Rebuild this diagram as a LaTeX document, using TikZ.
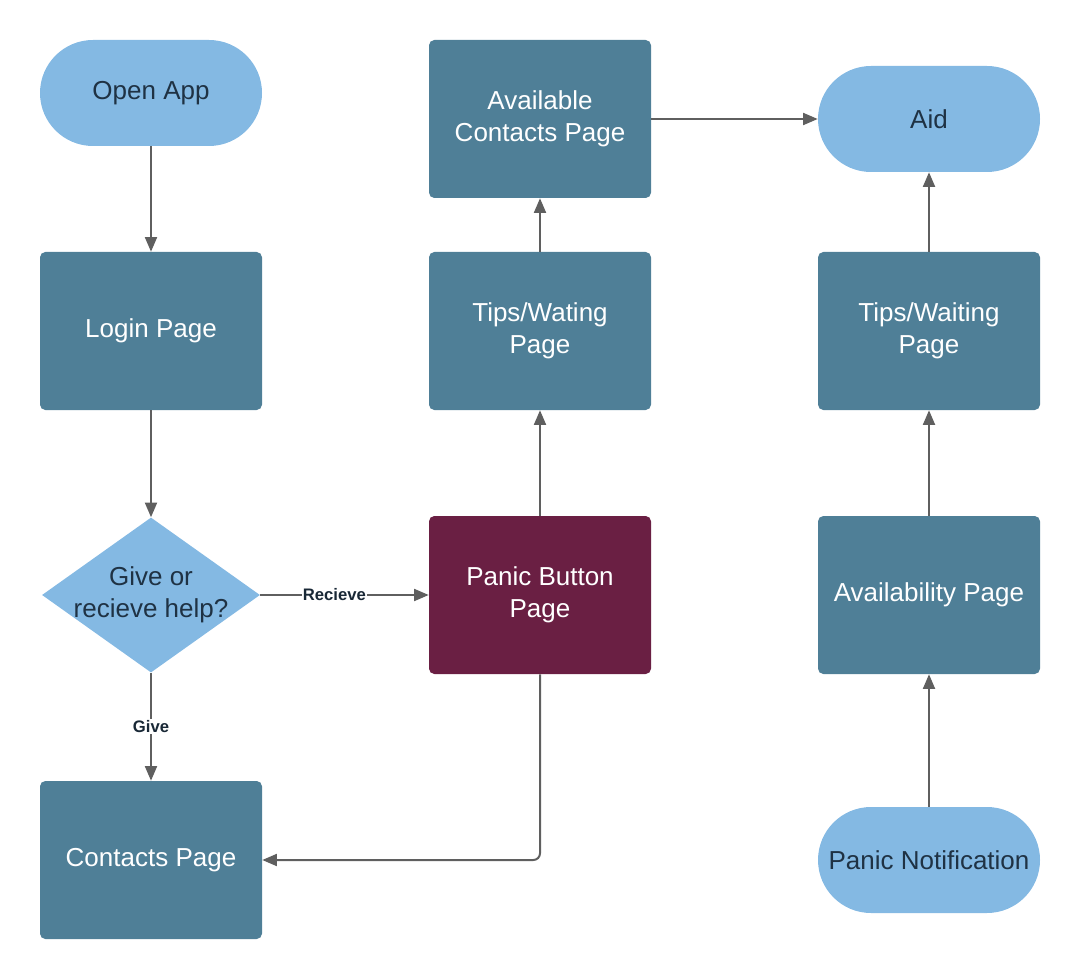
\documentclass[tikz,border=0pt]{standalone}
\usepackage{fontspec}
\setmainfont{Liberation Sans}
\usetikzlibrary{positioning}
\usetikzlibrary{shapes.geometric}
\usetikzlibrary{arrows.meta}
\definecolor{lightblue}{HTML}{84B9E3}
\definecolor{pageteal}{HTML}{4F7F97}
\definecolor{panicred}{HTML}{6A1F43}
\definecolor{darktext}{HTML}{1F3244}
\definecolor{arrowgray}{HTML}{5F5F5F}
\tikzstyle{page} = [rectangle, fill=pageteal, text=white, rounded corners=4pt, minimum width=166.5pt, minimum height=118.5pt, align=center, font=\fontsize{19.5}{24}\selectfont]
\tikzstyle{terminal} = [rectangle, fill=lightblue, text=darktext, rounded corners=39.75pt, minimum width=166.5pt, minimum height=79.5pt, align=center, font=\fontsize{19.5}{24}\selectfont]
\tikzstyle{decision} = [diamond, fill=lightblue, inner sep=0pt, minimum width=163.5pt, minimum height=116.25pt]

\begin{document}
\begin{tikzpicture}[x=0.75pt, y=-0.75pt, on grid,
  flow/.style={draw=arrowgray, line width=1.5pt, -{Triangle[length=11pt, width=9pt]}},
  choice/.style={fill=white, inner sep=1pt, text=darktext!80!black, font=\fontsize{12.5}{14}\selectfont\bfseries}]
\useasboundingbox (0,0) rectangle (1080,980);

% Define nodes
\node[terminal]                         (open)  at (151,93) {Open App};
\node[page, below = 178.5pt of open]     (login) {Login Page};
\node[decision, below = 198pt of login,
      label={[text=darktext, align=center, font=\fontsize{19.5}{24}\selectfont]center:Give or\\recieve help?}] (help) {};
\node[page, below = 198.75pt of help]    (cont)  {Contacts Page};

\node[page, fill=panicred, right = 291.75pt of help] (panic) {Panic Button\\Page};
\node[page, above = 198pt of panic]      (tips)  {Tips/Wating\\Page};
\node[page, above = 159pt of tips]       (avc)   {Available\\Contacts Page};

\node[terminal, right = 291.75pt of avc] (aid)   {Aid};
\node[page, below = 159pt of aid]        (wait)  {Tips/Waiting\\Page};
\node[page, below = 198pt of wait]       (avp)   {Availability Page};
\node[terminal, below = 198.75pt of avp] (notif) {Panic Notification};

% Edges
\draw[flow] (open) -- (login);
\draw[flow] (login) -- (help);
\draw[flow] (help) -- node[choice, pos=0.44] {Recieve} (panic);
\draw[flow] (help) -- node[choice] {Give} (cont);
\draw[flow, rounded corners=5pt] (panic.south) |- (cont.east);
\draw[flow] (panic) -- (tips);
\draw[flow] (tips) -- (avc);
\draw[flow] (avc) -- (aid);
\draw[flow] (notif) -- (avp);
\draw[flow] (avp) -- (wait);
\draw[flow] (wait) -- (aid);

\end{tikzpicture}
\end{document}
